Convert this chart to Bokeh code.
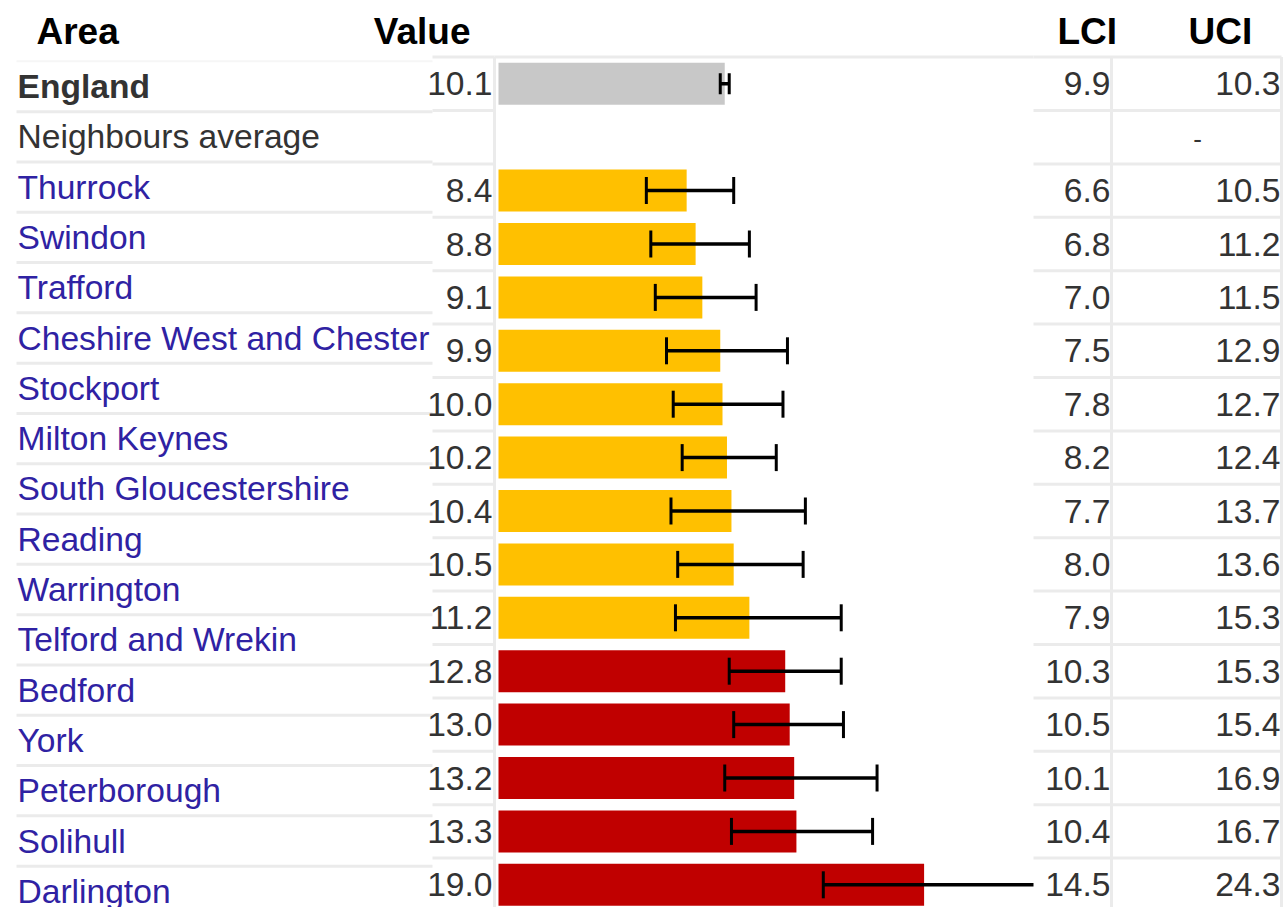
from bokeh.plotting import figure
from bokeh.models import Range1d, ColumnDataSource
from bokeh.core.properties import value
from bokeh.embed import file_html
from bokeh.resources import INLINE

# ---------------- data ----------------
area_names = ["Thurrock", "Swindon", "Trafford", "Cheshire West and Chester", "Stockport",
              "Milton Keynes", "South Gloucestershire", "Reading", "Warrington",
              "Telford and Wrekin", "Bedford", "York", "Peterborough", "Solihull", "Darlington"]
values = [8.4, 8.8, 9.1, 9.9, 10.0, 10.2, 10.4, 10.5, 11.2, 12.8, 13.0, 13.2, 13.3, 19.0]
lci = [6.6, 6.8, 7.0, 7.5, 7.8, 8.2, 7.7, 8.0, 7.9, 10.3, 10.5, 10.1, 10.4, 14.5]
uci = [10.5, 11.2, 11.5, 12.9, 12.7, 12.4, 13.7, 13.6, 15.3, 15.3, 15.4, 16.9, 16.7, 24.3]
significance = ["similar"] * 9 + ["worse"] * 5
england_value, england_lci, england_uci = 10.1, 9.9, 10.3
headers = ["Area", "Value", "LCI", "UCI"]

# ---------------- layout / style ----------------
FONT = value("Liberation Sans")
SIZE = "33.6px"
LINK = "#2f22a3"
DARK = "#333333"
GRID = "#ebebeb"
sig_colors = {"similar": "#FFC000", "worse": "#C00000"}
ENG_COLOR = "#C8C8C8"

W, H = 1284, 907
PX_PER_UNIT = 22.4   # bar scale in pixels per unit
ZERO_X = 498         # screen x of value 0
BAR_COL_END = 1033   # end of the bar column
ROW0 = 83.3          # centre of first table row
ROW_H = 53.4
NAME0 = 86.0
NAME_H = 50.3

p = figure(width=W, height=H, output_backend="svg", toolbar_location=None,
           x_range=Range1d(0, W), y_range=Range1d(H, 0),
           min_border=0, outline_line_color=None, background_fill_color="white")
p.axis.visible = False
p.grid.visible = False
p.extra_x_ranges = {"val": Range1d((0 - ZERO_X) / PX_PER_UNIT, (W - ZERO_X) / PX_PER_UNIT)}
clip_val = (BAR_COL_END - ZERO_X) / PX_PER_UNIT

n_rows = 2 + len(values)
row_y = [ROW0 + i * ROW_H for i in range(n_rows)]

# ---------------- grid lines ----------------
n_names = 2 + len(area_names)
name_sep = [NAME0 - NAME_H / 2 + k * NAME_H for k in range(1, n_names)]
p.segment(x0=16, x1=432, y0=name_sep, y1=name_sep, line_color=GRID, line_width=3)
p.segment(x0=16, x1=432, y0=NAME0 - NAME_H / 2, y1=NAME0 - NAME_H / 2, line_color="#f6f6f6", line_width=2)
row_sep = [ROW0 - ROW_H / 2 + i * ROW_H for i in range(n_rows + 1)]
p.segment(x0=432, x1=494, y0=row_sep, y1=row_sep, line_color=GRID, line_width=3)
p.segment(x0=1033, x1=1281, y0=row_sep, y1=row_sep, line_color=GRID, line_width=3)
p.segment(x0=494, x1=1033, y0=row_sep[0], y1=row_sep[0], line_color=GRID, line_width=3)
for xv in [494, 1111, 1281]:
    p.segment(x0=xv, x1=xv, y0=row_sep[0], y1=H, line_color=GRID, line_width=3)

# ---------------- bars ----------------
bar_src = ColumnDataSource(dict(
    y=row_y[2:], right=values,
    color=[sig_colors[s] for s in significance]))
p.hbar(y="y", left=0, right="right", height=42, color="color", line_color=None,
       source=bar_src, x_range_name="val")
p.hbar(y=[row_y[0]], left=0, right=[england_value], height=42, color=ENG_COLOR,
       line_color=None, x_range_name="val")

# error bars
all_l = [england_lci] + lci
all_u = [england_uci] + uci
all_y = [row_y[0]] + row_y[2:]
cap_h = [10.5] + [13.5] * len(lci)
p.segment(x0=all_l, x1=[min(u, clip_val) for u in all_u], y0=all_y, y1=all_y,
          line_color="black", line_width=3.5, x_range_name="val")
p.segment(x0=all_l, x1=all_l, y0=[y - c for y, c in zip(all_y, cap_h)],
          y1=[y + c for y, c in zip(all_y, cap_h)], line_color="black", line_width=3,
          x_range_name="val")
cu = [(u, y, c) for u, y, c in zip(all_u, all_y, cap_h) if u <= clip_val]
p.segment(x0=[a[0] for a in cu], x1=[a[0] for a in cu], y0=[a[1] - a[2] for a in cu],
          y1=[a[1] + a[2] for a in cu], line_color="black", line_width=3, x_range_name="val")

# ---------------- texts ----------------
p.text(x=[36], y=[31], text=[headers[0]], text_font=FONT, text_font_size="37px",
       text_font_style="bold", text_color="black", text_baseline="middle")
p.text(x=[470], y=[31], text=[headers[1]], text_font=FONT, text_font_size="37px",
       text_font_style="bold", text_color="black", text_baseline="middle", text_align="right")
p.text(x=[1057, 1188], y=[31, 31], text=headers[2:], text_font=FONT, text_font_size="37px",
       text_font_style="bold", text_color="black", text_baseline="middle")

p.text(x=[17], y=[NAME0], text=["England"], text_font=FONT, text_font_size=SIZE,
       text_font_style="bold", text_color=DARK, text_baseline="middle")
p.text(x=[17], y=[NAME0 + NAME_H], text=["Neighbours average"], text_font=FONT,
       text_font_size=SIZE, text_color=DARK, text_baseline="middle")
p.text(x=17, y=[NAME0 + (k + 2) * NAME_H for k in range(len(area_names))], text=area_names,
       text_font=FONT, text_font_size=SIZE, text_color=LINK, text_baseline="middle")

val_txt = [f"{england_value:.1f}"] + [f"{v:.1f}" for v in values]
lci_txt = [f"{england_lci:.1f}"] + [f"{v:.1f}" for v in lci]
uci_txt = [f"{england_uci:.1f}"] + [f"{v:.1f}" for v in uci]
p.text(x=492, y=all_y, text=val_txt, text_font=FONT, text_font_size=SIZE, text_color=DARK,
       text_align="right", text_baseline="middle")
p.text(x=1110, y=all_y, text=lci_txt, text_font=FONT, text_font_size=SIZE, text_color=DARK,
       text_align="right", text_baseline="middle")
p.text(x=1280, y=all_y, text=uci_txt, text_font=FONT, text_font_size=SIZE, text_color=DARK,
       text_align="right", text_baseline="middle")
p.text(x=[1197], y=[row_y[1] + 2], text=["-"], text_font=FONT, text_font_size="26px",
       text_color=DARK, text_align="center", text_baseline="middle")

open("out.html", "w").write(file_html(p, INLINE))
